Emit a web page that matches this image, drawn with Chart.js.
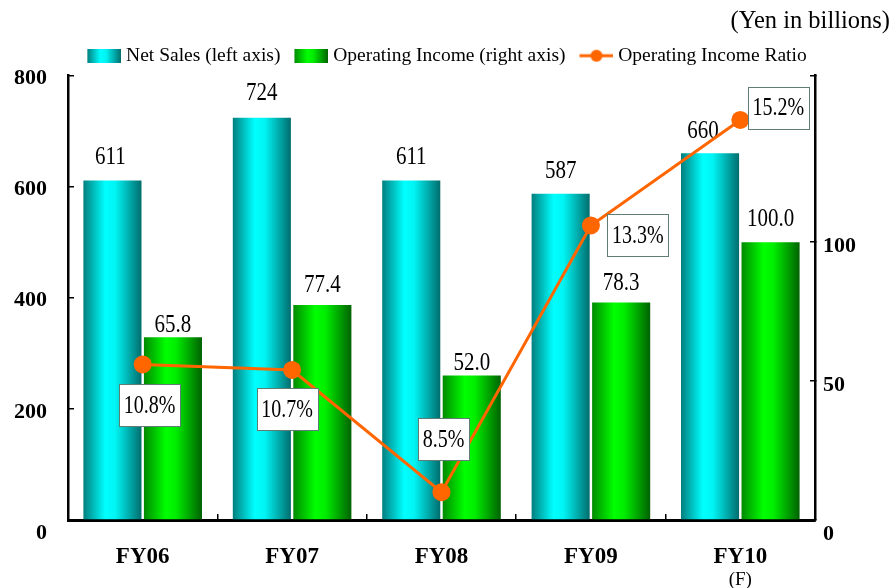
<!DOCTYPE html>
<html>
<head>
<meta charset="utf-8">
<title>Net Sales / Operating Income</title>
<script src="https://cdn.jsdelivr.net/npm/chart.js@4.4.1/dist/chart.umd.min.js"></script>
<style>
    html, body { margin: 0; padding: 0; background: #fff; }
</style>
</head>
<body>
<canvas id="chart" width="890" height="588"></canvas>
<script>
// data
const categories = ['FY06', 'FY07', 'FY08', 'FY09', 'FY10'];
const netSales = [611, 724, 611, 587, 660];
const operatingIncome = [65.8, 77.4, 52.0, 78.3, 100.0];
const incomeRatio = [10.8, 10.7, 8.5, 13.3, 15.2];
const leftTicks = [0, 200, 400, 600, 800];
const rightTicks = [0, 50, 100, 160];

// styling
const SERIF = "'Liberation Serif', 'Times New Roman', serif";
const CAT_PCT = 0.81;
const BAR_PCT = 0.96;
const cyanStops = [[0, '#007f7f'], [0.38, '#00ffff'], [0.55, '#00f4f4'], [1, '#006d6d']];
const greenStops = [[0, '#008a00'], [0.38, '#00ff00'], [0.55, '#00ee00'], [1, '#006200']];
// how far above the bar top each value label sits, and its sideways nudge
const valueLift = [[23, 24, 23, 22, 22], [12, 19, 12, 19, 22]];
const valueShift = [[-2, 0, 0, 0, -7], [0, 0, 0, 0, 0]];
// ratio boxes: centre relative to the point
const boxOffset = [[7, 41], [-5, 39], [2, -53], [47, 10], [38, -12]];

function fillStops(g, stops) {
    stops.forEach(([o, c]) => g.addColorStop(o, c));
    return g;
}

// horizontal "cylinder" gradient for each bar
function barGradient(stops) {
    return (ctx) => {
        const chart = ctx.chart;
        const xs = chart.scales.x;
        if (ctx.type !== 'data' || !xs || !chart.chartArea) return stops[1][1];
        const slot = xs.width / categories.length * CAT_PCT / 2;
        const center = xs.getPixelForValue(ctx.dataIndex);
        const left = ctx.datasetIndex === 0 ? center - slot : center;
        const pad = slot * (1 - BAR_PCT) / 2;
        const g = chart.ctx.createLinearGradient(left + pad, 0, left + slot - pad, 0);
        return fillStops(g, stops);
    };
}

// legend icons: 43px canvas, the 34px swatch sits on its right part
// so there is a wider gap before an item than after its swatch
const ICON_W = 43, SWATCH = 34, ICON_H = 14;
function boxIcon(stops) {
    const c = document.createElement('canvas');
    c.width = ICON_W; c.height = ICON_H;
    const x = c.getContext('2d');
    const x0 = ICON_W - SWATCH;
    x.fillStyle = fillStops(x.createLinearGradient(x0, 0, ICON_W, 0), stops);
    x.fillRect(x0, 0, SWATCH, ICON_H);
    return c;
}
function lineIcon() {
    const c = document.createElement('canvas');
    c.width = ICON_W; c.height = ICON_H;
    const x = c.getContext('2d');
    const x0 = ICON_W - SWATCH;
    x.strokeStyle = '#ff6600';
    x.lineWidth = 3;
    x.beginPath(); x.moveTo(x0, 7); x.lineTo(ICON_W, 7); x.stroke();
    x.fillStyle = '#ff6600';
    x.beginPath(); x.arc(x0 + SWATCH / 2, 7, 6, 0, Math.PI * 2); x.fill();
    return c;
}
const legendIcons = [boxIcon(cyanStops), boxIcon(greenStops), lineIcon()];

// value labels, ratio boxes and the "(F)" note
const labelPlugin = {
    id: 'labels',
    afterDatasetDraw(chart, args) {
        const ds = chart.data.datasets[args.index];
        if (ds.type === 'line') return;
        const ctx = chart.ctx;
        ctx.save();
        ctx.font = `21px ${SERIF}`;
        ctx.fillStyle = '#000';
        ctx.textAlign = 'center';
        ctx.textBaseline = 'middle';
        args.meta.data.forEach((el, i) => {
            const v = ds.data[i];
            const text = args.index === 0 ? String(v) : v.toFixed(1);
            const x = el.x + valueShift[args.index][i];
            const y = el.y - valueLift[args.index][i];
            ctx.save();
            ctx.translate(x, y);
            ctx.scale(1, 1.15);
            ctx.fillText(text, 0, 0);
            ctx.restore();
        });
        ctx.restore();
    },
    afterDatasetsDraw(chart) {
        const ctx = chart.ctx;
        const meta = chart.getDatasetMeta(2);
        ctx.save();
        ctx.font = `20px ${SERIF}`;
        ctx.textAlign = 'center';
        ctx.textBaseline = 'middle';
        meta.data.forEach((pt, i) => {
            const text = incomeRatio[i].toFixed(1) + '%';
            const cx = pt.x + boxOffset[i][0];
            const cy = pt.y + boxOffset[i][1];
            const w = Math.round(ctx.measureText(text).width + 9);
            const h = 42;
            const bx = Math.round(cx - w / 2);
            const by = Math.round(cy - h / 2);
            ctx.fillStyle = '#fff';
            ctx.fillRect(bx, by, w, h);
            ctx.strokeStyle = '#5f7d75';
            ctx.lineWidth = 1;
            ctx.strokeRect(bx + 0.5, by + 0.5, w, h);
            ctx.fillStyle = '#000';
            ctx.save();
            ctx.translate(cx, cy + 1);
            ctx.scale(1, 1.25);
            ctx.fillText(text, 0, 0);
            ctx.restore();
        });
        ctx.restore();
    },
    afterDraw(chart) {
        const ctx = chart.ctx;
        const xs = chart.scales.x;
        ctx.save();
        ctx.font = `19px ${SERIF}`;
        ctx.fillStyle = '#000';
        ctx.textAlign = 'center';
        ctx.textBaseline = 'middle';
        ctx.fillText('(F)', xs.getPixelForValue(4), 580);
        ctx.restore();
    }
};

const tickFont = { family: SERIF, size: 22, weight: 'bold', lineHeight: 0.9 };

new Chart(document.getElementById('chart'), {
    type: 'bar',
    data: {
        labels: categories,
        datasets: [{
            label: 'Net Sales (left axis)',
            data: netSales,
            yAxisID: 'y',
            backgroundColor: barGradient(cyanStops),
            borderWidth: 0,
            categoryPercentage: CAT_PCT,
            barPercentage: BAR_PCT,
            order: 1
        }, {
            label: 'Operating Income (right axis)',
            data: operatingIncome,
            yAxisID: 'y1',
            backgroundColor: barGradient(greenStops),
            borderWidth: 0,
            categoryPercentage: CAT_PCT,
            barPercentage: BAR_PCT,
            order: 1
        }, {
            type: 'line',
            label: 'Operating Income Ratio',
            data: incomeRatio,
            yAxisID: 'y2',
            borderColor: '#ff6600',
            backgroundColor: '#ff6600',
            borderWidth: 3,
            pointRadius: 9,
            pointHoverRadius: 9,
            pointBorderWidth: 0,
            tension: 0,
            order: 0
        }]
    },
    options: {
        responsive: false,
        animation: false,
        layout: { padding: 0 },
        scales: {
            x: {
                offset: true,
                grid: { offset: true, drawOnChartArea: false, drawTicks: true, tickLength: -6, color: '#000', lineWidth: 1.5 },
                border: { display: true, color: '#000', width: 3 },
                ticks: { color: '#000', font: { family: SERIF, size: 23, weight: 'bold' }, padding: 29, maxRotation: 0 },
                afterFit: s => { s.height = 68; }
            },
            y: {
                position: 'left',
                min: 0,
                max: 800,
                afterBuildTicks: s => { s.ticks = leftTicks.map(v => ({ value: v })); },
                grid: { drawOnChartArea: false, drawTicks: true, tickLength: -6, color: '#000', lineWidth: 1.5 },
                border: { display: true, color: '#000', width: 2.5 },
                ticks: {
                    color: '#000', font: tickFont, padding: 27, labelOffset: 3,
                    callback: v => v === 0 ? ['', '0'] : String(v)
                },
                afterFit: s => { s.width = 68; }
            },
            y1: {
                position: 'right',
                min: 0,
                max: 160,
                afterBuildTicks: s => { s.ticks = rightTicks.map(v => ({ value: v })); },
                grid: { drawOnChartArea: false, drawTicks: true, tickLength: -5, color: '#000', lineWidth: 1.5 },
                border: { display: true, color: '#000', width: 2.5 },
                ticks: {
                    color: '#000', font: tickFont, padding: 13, labelOffset: 4,
                    callback: v => v === 0 ? ['', '0'] : (v > 100 ? '' : String(v))
                },
                afterFit: s => { s.width = 75; }
            },
            y2: {
                display: false,
                min: 8,
                max: 16
            }
        },
        plugins: {
            title: {
                display: true,
                text: '(Yen in billions)',
                align: 'end',
                color: '#000',
                font: { family: SERIF, size: 24.5, weight: 'normal', lineHeight: 1.1 },
                padding: { top: 8, bottom: 1 }
            },
            legend: {
                position: 'top',
                labels: {
                    usePointStyle: true,
                    pointStyleWidth: 33,
                    color: '#000',
                    padding: 10,
                    font: { family: SERIF, size: 19.5 },
                    generateLabels: chart => chart.data.datasets.map((ds, i) => ({
                        text: ds.label,
                        pointStyle: legendIcons[i],
                        datasetIndex: i,
                        hidden: false,
                        fontColor: '#000',
                        fillStyle: 'transparent',
                        strokeStyle: 'transparent',
                        lineWidth: 0
                    }))
                }
            },
            tooltip: { enabled: false }
        }
    },
    plugins: [labelPlugin]
});
</script>
</body>
</html>
